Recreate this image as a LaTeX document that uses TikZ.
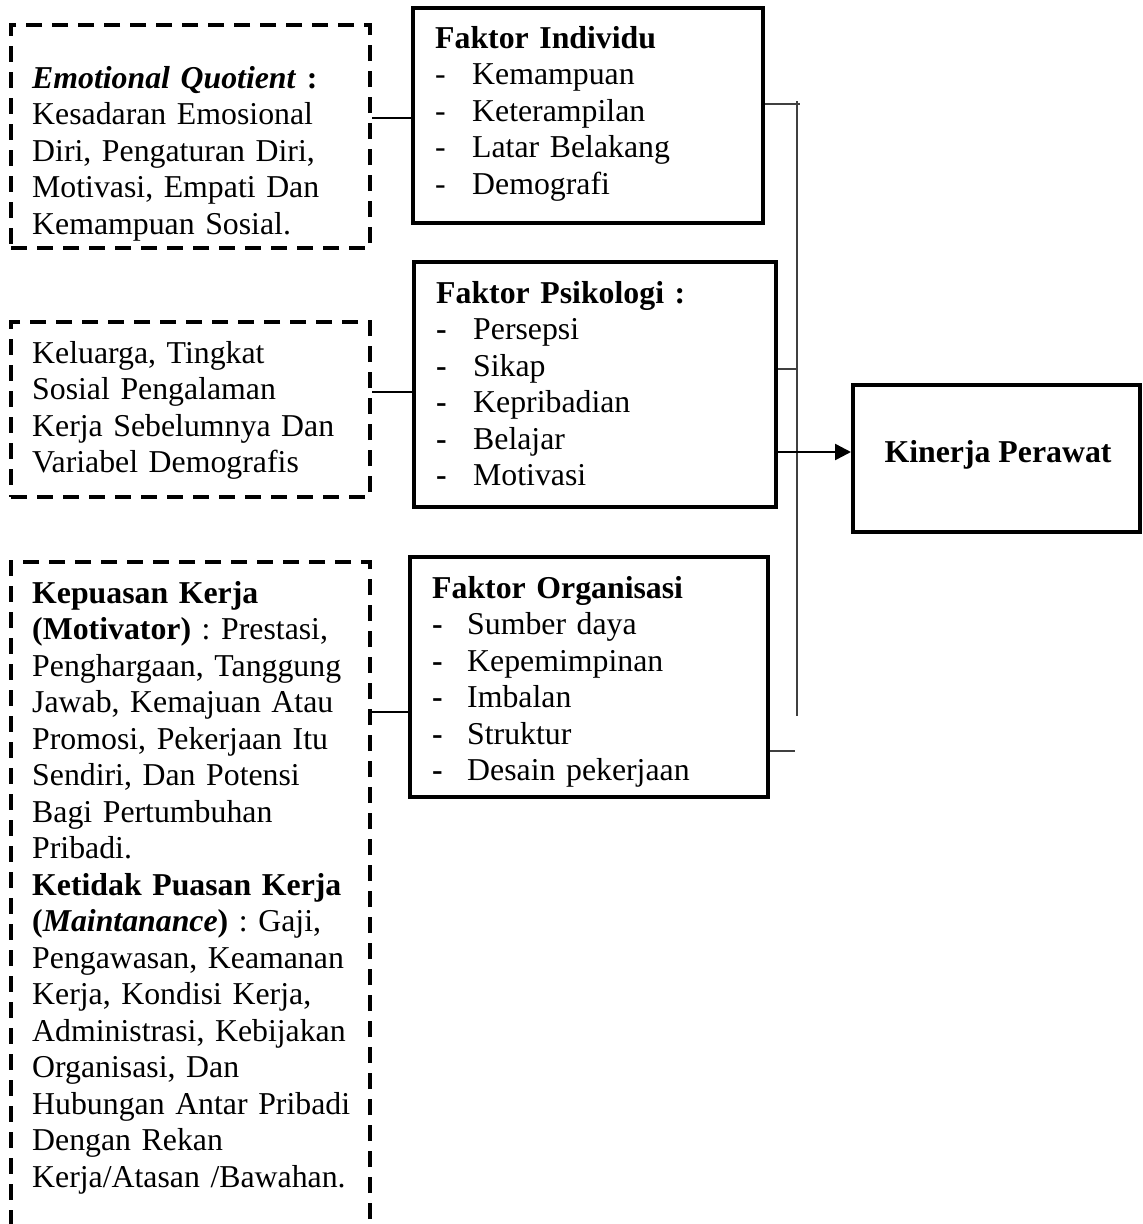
\documentclass[tikz,border=0pt]{standalone}
\usepackage{fontspec}
\setmainfont{Liberation Serif}
\usetikzlibrary{arrows.meta}
\begin{document}
\frenchspacing
\begin{tikzpicture}[x=1pt,y=-1pt,
  dbox/.style={draw,line width=4pt,dash pattern=on 16pt off 10pt},
  sbox/.style={draw,line width=4pt},
  txt/.style={anchor=base west,inner sep=0pt,text width=345pt,align=left,
    font=\fontsize{31.8}{36.5}\selectfont},
  lconn/.style={line width=2pt},
  rconn/.style={line width=1.6pt,draw=black!75},
  arr/.style={line width=2.5pt,-{Triangle[length=16pt,width=16pt]}}]
\useasboundingbox (0,0) rectangle (1143,1224);
% boxes
\node[dbox,minimum width=359pt,minimum height=223pt] (d1) at (190.5,136.5) {};
\node[dbox,minimum width=359pt,minimum height=175pt] (d2) at (190.5,409.5) {};
\node[dbox,minimum width=359pt,minimum height=688pt] (d3) at (190.5,906) {};
\node[sbox,minimum width=350pt,minimum height=215pt] (ind) at (588,115.5) {};
\node[sbox,minimum width=362pt,minimum height=245pt] (psi) at (595,384.5) {};
\node[sbox,minimum width=358pt,minimum height=240pt] (org) at (589,677) {};
\node[sbox,minimum width=287pt,minimum height=147pt] (kin) at (996.5,458.5) {};
% texts
\node[txt] (t1) at (32,88) {\textbf{\textit{Emotional Quotient}} \textbf{:}\\Kesadaran Emosional\\Diri, Pengaturan Diri,\\Motivasi, Empati Dan\\Kemampuan Sosial.};
\node[txt] (t2) at (32,363) {Keluarga, Tingkat\\Sosial Pengalaman\\Kerja Sebelumnya Dan\\Variabel Demografis};
\node[txt] (t3) at (32,603) {\textbf{Kepuasan Kerja}\\\textbf{(Motivator)} : Prestasi,\\Penghargaan, Tanggung\\Jawab, Kemajuan Atau\\Promosi, Pekerjaan Itu\\Sendiri, Dan Potensi\\Bagi Pertumbuhan\\Pribadi.\\\textbf{Ketidak Puasan Kerja}\\\textbf{(\textit{Maintanance})} : Gaji,\\Pengawasan, Keamanan\\Kerja, Kondisi Kerja,\\Administrasi, Kebijakan\\Organisasi, Dan\\Hubungan Antar Pribadi\\Dengan Rekan\\Kerja/Atasan /Bawahan.};
\node[txt] (t4) at (435,48) {\textbf{Faktor Individu}\\\makebox[37pt][l]{-}Kemampuan\\\makebox[37pt][l]{-}Keterampilan\\\makebox[37pt][l]{-}Latar Belakang\\\makebox[37pt][l]{-}Demografi};
\node[txt] (t5) at (436,303) {\textbf{Faktor Psikologi :}\\\makebox[37pt][l]{\textbf{-}}Persepsi\\\makebox[37pt][l]{\textbf{-}}Sikap\\\makebox[37pt][l]{\textbf{-}}Kepribadian\\\makebox[37pt][l]{\textbf{-}}Belajar\\\makebox[37pt][l]{\textbf{-}}Motivasi};
\node[txt] (t6) at (432,598) {\textbf{Faktor Organisasi}\\\makebox[35pt][l]{\textbf{-}}Sumber daya\\\makebox[35pt][l]{\textbf{-}}Kepemimpinan\\\makebox[35pt][l]{\textbf{-}}Imbalan\\\makebox[35pt][l]{\textbf{-}}Struktur\\\makebox[35pt][l]{\textbf{-}}Desain pekerjaan};
\node[anchor=base,inner sep=0pt,font=\fontsize{31.8}{36.5}\selectfont\bfseries] (t7) at (998,462) {Kinerja Perawat};
% left connectors
\draw[lconn] (d1.east |- 0,118) -- (ind.west |- 0,118);
\draw[lconn] (d2.east |- 0,392) -- (psi.west |- 0,392);
\draw[lconn] (d3.east |- 0,712) -- (org.west |- 0,712);
% right bus
\coordinate (bt) at (797,101);
\coordinate (bb) at (797,716);
\draw[rconn] (bt) -- (bb);
\draw[rconn] (ind.east |- 0,104) -- (800,104);
\draw[rconn] (psi.east |- 0,369) -- (bt |- 0,369);
\draw[rconn] (org.east |- 0,751) -- (795,751);
\draw[arr] (psi.east |- 0,452) -- (kin.west |- 0,452);
\end{tikzpicture}
\end{document}
